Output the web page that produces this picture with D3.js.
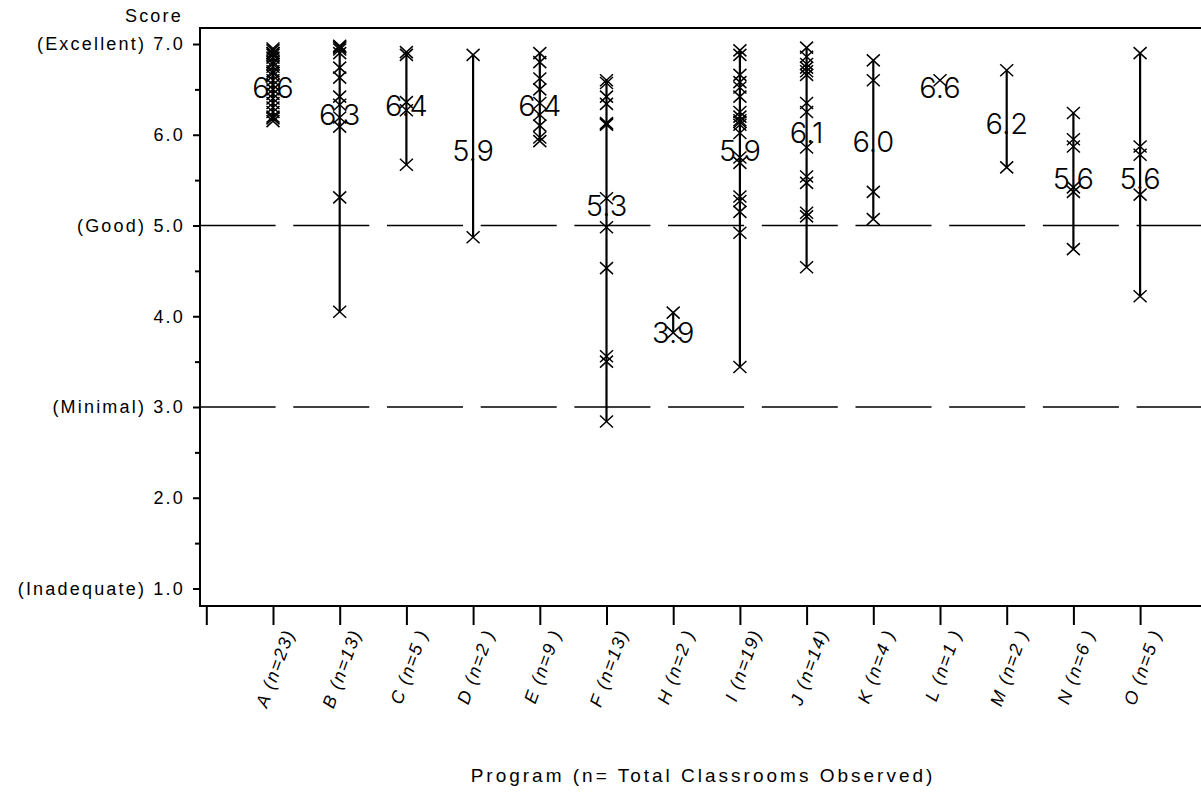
<!DOCTYPE html>
<html>
<head>
<meta charset="utf-8">
<script src="https://cdn.jsdelivr.net/npm/d3@7"></script>
<style>
  body { margin: 0; background: #fff; }
  text { font-family: "Liberation Sans", Arial, sans-serif; fill: #000; }
</style>
</head>
<body>
<div id="graph"></div>
<script>
// Programs along the x axis and number of classrooms observed in each.
var programs = ['A', 'B', 'C', 'D', 'E', 'F', 'H', 'I', 'J', 'K', 'L', 'M', 'N', 'O'];
var counts = [23, 13, 5, 2, 9, 13, 2, 19, 14, 4, 1, 2, 6, 5];

// Classroom scores per program.
var scoresA = [6.95, 6.93, 6.9, 6.9, 6.88, 6.85, 6.8, 6.78, 6.75, 6.7, 6.68, 6.65, 6.6, 6.55, 6.5, 6.45, 6.4, 6.35, 6.3, 6.25, 6.2, 6.18, 6.15];
var scoresB = [6.98, 6.97, 6.96, 6.94, 6.9, 6.74, 6.63, 6.42, 6.33, 6.19, 6.09, 5.31, 4.05];
var scoresC = [6.91, 6.88, 6.36, 6.27, 5.67];
var scoresD = [6.88, 4.87];
var scoresE = [6.9, 6.8, 6.62, 6.5, 6.35, 6.22, 6.1, 5.97, 5.93];
var scoresF = [6.6, 6.57, 6.42, 6.34, 6.13, 6.12, 6.11, 5.3, 4.98, 4.53, 3.56, 3.5, 2.84];
var scoresH = [4.04, 3.82];
var scoresI = [6.93, 6.88, 6.66, 6.58, 6.52, 6.42, 6.25, 6.2, 6.16, 6.14, 6.11, 6.02, 5.75, 5.69, 5.32, 5.27, 5.15, 4.92, 3.44];
var scoresJ = [6.96, 6.86, 6.78, 6.74, 6.7, 6.66, 6.35, 6.25, 5.86, 5.54, 5.47, 5.14, 5.1, 4.54];
var scoresK = [6.82, 6.6, 5.37, 5.07];
var scoresL = [6.6];
var scoresM = [6.71, 5.64];
var scoresN = [6.24, 5.95, 5.87, 5.42, 5.37, 4.74];
var scoresO = [6.9, 5.87, 5.78, 5.34, 4.22];

// Mean score printed at each program.
var meanLabels = [6.6, 6.3, 6.4, 5.9, 6.4, 5.3, 3.9, 5.9, 6.1, 6.0, 6.6, 6.2, 5.6, 5.6];

// Y axis ticks and their quality names.
var yTicks = [1, 2, 3, 4, 5, 6, 7];
var yTickNames = ['(Inadequate) ', '', '(Minimal) ', '', '(Good) ', '', '(Excellent) '];
var yMinorTicks = [1.5, 2.5, 3.5, 4.5, 5.5, 6.5];
var refLines = [5, 3];

window.onload = start;

function start() {
    var width = 1201;
    var height = 802;

    var allScores = [scoresA, scoresB, scoresC, scoresD, scoresE, scoresF, scoresH,
                     scoresI, scoresJ, scoresK, scoresL, scoresM, scoresN, scoresO];

    var data = programs.map(function(p, i) {
        return { program: p, pos: i + 1, n: counts[i], scores: allScores[i], mean: meanLabels[i] };
    });

    var svg = d3.select('#graph')
        .append('svg')
        .attr('width', width)
        .attr('height', height);

    // plot frame edges
    var left = 200, top = 28, bottom = 606;

    var xScale = d3.scaleLinear().domain([0, 15]).range([206.3, 1206.8]);
    var yScale = d3.scaleLinear().domain([1, 7]).range([588.5, 44]);

    // frame: top, left and bottom lines (the right side runs off the page)
    svg.append('path')
        .attr('d', 'M' + (width + 10) + ',' + top + 'H' + left + 'V' + bottom + 'H' + (width + 10))
        .attr('fill', 'none')
        .attr('stroke', '#000')
        .attr('stroke-width', 2);

    // y axis, major ticks with labels
    var yAxis = d3.axisLeft(yScale)
        .tickValues(yTicks)
        .tickSize(7)
        .tickPadding(8)
        .tickFormat(function(d, i) { return yTickNames[i] + d3.format('.1f')(d); });

    var gy = svg.append('g')
        .attr('transform', 'translate(' + left + ',0)')
        .call(yAxis);
    gy.select('.domain').remove();
    gy.selectAll('line').attr('stroke-width', 2);
    gy.selectAll('text')
        .style('font-size', '18px')
        .style('letter-spacing', '2.2px');

    // y axis, minor ticks
    var gyMinor = svg.append('g')
        .attr('transform', 'translate(' + left + ',0)')
        .call(d3.axisLeft(yScale).tickValues(yMinorTicks).tickSize(5).tickFormat(''));
    gyMinor.select('.domain').remove();
    gyMinor.selectAll('line').attr('stroke-width', 2);

    svg.append('text')
        .attr('x', 183)
        .attr('y', 22)
        .attr('text-anchor', 'end')
        .style('font-size', '18px')
        .style('letter-spacing', '2.2px')
        .text('Score');

    // x axis ticks
    var gx = svg.append('g')
        .attr('transform', 'translate(0,' + bottom + ')')
        .call(d3.axisBottom(xScale).tickValues(d3.range(0, 15)).tickSize(19).tickFormat(''));
    gx.select('.domain').remove();
    gx.selectAll('line').attr('stroke-width', 2);

    // rotated program labels
    svg.append('g')
        .selectAll('text')
        .data(data)
        .enter()
        .append('text')
        .attr('transform', function(d) {
            return 'translate(' + (xScale(d.pos) + 22) + ',632) rotate(-70)';
        })
        .attr('text-anchor', 'end')
        .style('font-size', '18px')
        .style('font-style', 'italic')
        .style('letter-spacing', '1.6px')
        .style('white-space', 'pre')
        .text(function(d) {
            var n = d.n < 10 ? d.n + ' ' : '' + d.n;
            return d.program + ' (n=' + n + ')';
        });

    svg.append('text')
        .attr('x', 703)
        .attr('y', 782)
        .attr('text-anchor', 'middle')
        .style('font-size', '19px')
        .style('letter-spacing', '3px')
        .text('Program (n= Total Classrooms Observed)');

    // dashed reference lines at Good and Minimal
    svg.append('g')
        .selectAll('line')
        .data(refLines)
        .enter()
        .append('line')
        .attr('x1', 199.6)
        .attr('x2', width)
        .attr('y1', function(d) { return yScale(d); })
        .attr('y2', function(d) { return yScale(d); })
        .attr('stroke', '#000')
        .attr('stroke-width', 1.6)
        .attr('stroke-dasharray', '76,17.7');

    // one group per program
    var groups = svg.append('g')
        .selectAll('g')
        .data(data)
        .enter()
        .append('g')
        .attr('transform', function(d) { return 'translate(' + xScale(d.pos) + ',0)'; });

    // range line from lowest to highest classroom
    groups.append('line')
        .attr('x1', 0)
        .attr('x2', 0)
        .attr('y1', function(d) { return yScale(d3.max(d.scores)); })
        .attr('y2', function(d) { return yScale(d3.min(d.scores)); })
        .attr('stroke', '#000')
        .attr('stroke-width', 2.2);

    // an X for every classroom
    groups.selectAll('path')
        .data(function(d) { return d.scores; })
        .enter()
        .append('path')
        .attr('d', function(v) {
            var y = yScale(v);
            return 'M-6.5,' + (y - 6) + 'L6.5,' + (y + 6) + 'M-6.5,' + (y + 6) + 'L6.5,' + (y - 6);
        })
        .attr('stroke', '#000')
        .attr('stroke-width', 1.5)
        .attr('fill', 'none');

    // mean label
    groups.append('text')
        .attr('x', 0)
        .attr('y', function(d) { return yScale(d.mean) + 17.5; })
        .attr('text-anchor', 'middle')
        .style('font-family', 'Inter, Lato, Roboto, sans-serif')
        .style('font-weight', 300)
        .style('font-size', '29px')
        .text(function(d) { return d3.format('.1f')(d.mean); });
}
</script>
</body>
</html>
